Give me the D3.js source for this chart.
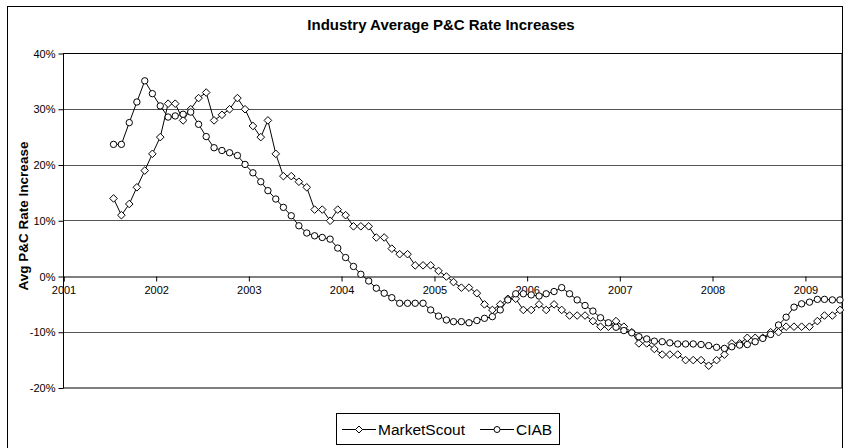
<!DOCTYPE html>
<html><head><meta charset="utf-8">
<script src="https://cdn.jsdelivr.net/npm/d3@7"></script>
<style>body{margin:0;background:#fff} svg{display:block;font-family:"Liberation Sans",Arial,sans-serif}</style>
</head><body><svg id="c" width="844" height="448"></svg>
<script>
// Monthly values, July 2001 .. May 2009
const startYear = 2001, startMonth = 6;
const marketScout = [
  14, 11, 13, 16, 19, 22,
  25, 31, 31, 28, 30, 32, 33, 28, 29, 30, 32, 30,
  27, 25, 28, 22, 18, 18, 17, 16, 12, 12, 10, 12,
  11, 9, 9, 9, 7, 7, 5, 4, 4, 2, 2, 2,
  1, 0, -1, -2, -2, -3, -5, -6, -5, -4, -4, -6,
  -6, -5, -6, -5, -6, -7, -7, -7, -8, -9, -9, -8,
  -9, -10, -12, -12, -13, -14, -14, -14, -15, -15, -15, -16,
  -15, -14, -12, -12, -11, -11, -11, -10, -10, -9, -9, -9,
  -9, -8, -7, -7, -6
];
const ciab = [
  23.7, 23.7, 27.6, 31.3, 35.1, 32.8,
  30.6, 28.6, 28.8, 29.1, 29.5, 27.3, 25.1, 23.1, 22.6, 22.2, 21.7, 20.1,
  18.6, 17.0, 15.4, 13.9, 12.4, 10.9, 9.1, 7.8, 7.3, 7.0, 6.7, 5.1,
  3.4, 1.8, 0.4, -0.8, -2.1, -3.0, -3.8, -4.8, -4.8, -4.8, -4.8, -6.0,
  -7.1, -7.8, -8.1, -8.1, -8.3, -7.9, -7.5, -7.2, -6.0, -4.2, -3.1, -3.1,
  -3.3, -3.5, -3.1, -2.7, -2.0, -3.1, -4.2, -5.2, -6.2, -7.4, -8.3, -9.1,
  -9.7, -10.1, -10.8, -11.2, -11.6, -11.7, -11.9, -12.1, -12.1, -12.1, -12.2, -12.4,
  -12.7, -12.9, -12.6, -12.3, -12.2, -11.7, -11.1, -10.4, -8.7, -7.3, -5.5, -4.9,
  -4.6, -4.1, -4.1, -4.2, -4.2
];
const seriesNames = ["MarketScout", "CIAB"];
const yTicks = [-20, -10, 0, 10, 20, 30, 40];
const xTickYears = [2001, 2002, 2003, 2004, 2005, 2006, 2007, 2008, 2009];
const titleText = "Industry Average P&C Rate Increases";
const yTitleText = "Avg P&C Rate Increase";

const svg = d3.select("#c");
const L = 63.5, R = 842, T = 53.5, B = 388;

const x = d3.scaleTime().domain([new Date(2001, 0, 1), new Date(2009, 4, 25)]).range([L, R]);
const y = d3.scaleLinear().domain([-20, 40]).range([B, T]);
const crisp = v => Math.round(v - 0.5) + 0.5;

// outer chart border
svg.append("rect").attr("x", 7.5).attr("y", 6.5).attr("width", 835).attr("height", 445)
  .attr("fill", "none").attr("stroke", "#000").attr("stroke-width", 1);

// title
svg.append("text").attr("x", 441).attr("y", 30).attr("text-anchor", "middle")
  .attr("font-weight", "bold").attr("font-size", 15).text(titleText);

// gridlines
svg.append("g").selectAll("line").data(yTicks.filter(t => t !== 0 && t !== 40 && t !== -20)).join("line")
  .attr("x1", L).attr("x2", R).attr("y1", d => crisp(y(d))).attr("y2", d => crisp(y(d)))
  .attr("stroke", "#555").attr("stroke-width", 1);

// plot area border
svg.append("rect").attr("x", L).attr("y", T).attr("width", R - L).attr("height", B - T)
  .attr("fill", "none").attr("stroke", "#000").attr("stroke-width", 1);

// y axis
const yAxis = d3.axisLeft(y).tickValues(yTicks).tickFormat(d => d + "%").tickSize(5).tickPadding(3);
const gy = svg.append("g").attr("transform", `translate(${L},0)`).call(yAxis);
gy.select(".domain").remove();
gy.selectAll(".tick line").attr("stroke", "#000");
gy.selectAll("text").attr("font-size", 11).attr("font-family", "Liberation Sans, Arial, sans-serif").attr("fill", "#000");

// x axis at zero
const xAxis = d3.axisBottom(x).tickValues(xTickYears.map(yr => new Date(yr, 0, 1)))
  .tickFormat(d3.timeFormat("%Y")).tickSize(5).tickPadding(5);
const gx = svg.append("g").attr("transform", `translate(0,${crisp(y(0))})`).call(xAxis);
gx.select(".domain").attr("stroke", "#000");
gx.selectAll(".tick line").attr("stroke", "#000");
gx.selectAll("text").attr("font-size", 11).attr("font-family", "Liberation Sans, Arial, sans-serif").attr("fill", "#000");

// y title
svg.append("text").attr("transform", "translate(28,216) rotate(-90)").attr("text-anchor", "middle")
  .attr("font-weight", "bold").attr("font-size", 13.5).text(yTitleText);

const dateOf = i => new Date(startYear, startMonth + i, 17);
const line = d3.line().x((d, i) => x(dateOf(i))).y(d => y(d));
const diamond = r => `M0,${-r}L${r},0L0,${r}L${-r},0Z`;

function drawSeries(vals, kind) {
  const g = svg.append("g");
  g.append("path").attr("d", line(vals)).attr("fill", "none").attr("stroke", "#000").attr("stroke-width", 1);
  if (kind === "diamond") {
    g.selectAll("path.m").data(vals).join("path").attr("class", "m")
      .attr("transform", (d, i) => `translate(${x(dateOf(i))},${y(d)})`)
      .attr("d", diamond(3.8)).attr("fill", "#fff").attr("stroke", "#000").attr("stroke-width", 1);
  } else {
    g.selectAll("circle").data(vals).join("circle")
      .attr("cx", (d, i) => x(dateOf(i))).attr("cy", d => y(d)).attr("r", 3.2)
      .attr("fill", "#fff").attr("stroke", "#000").attr("stroke-width", 1);
  }
}
drawSeries(marketScout, "diamond");
drawSeries(ciab, "circle");

// legend
const lg = svg.append("g");
lg.append("rect").attr("x", 336.5).attr("y", 413.5).attr("width", 223).attr("height", 31)
  .attr("fill", "#fff").attr("stroke", "#000");
const items = [{name: seriesNames[0], kind: "diamond", x0: 342}, {name: seriesNames[1], kind: "circle", x0: 480}];
items.forEach(it => {
  lg.append("line").attr("x1", it.x0).attr("x2", it.x0 + 34).attr("y1", 429.5).attr("y2", 429.5).attr("stroke", "#000");
  if (it.kind === "diamond") {
    lg.append("path").attr("transform", `translate(${it.x0 + 17},429.5)`).attr("d", diamond(3.5))
      .attr("fill", "#fff").attr("stroke", "#000");
  } else {
    lg.append("circle").attr("cx", it.x0 + 17).attr("cy", 429.5).attr("r", 3)
      .attr("fill", "#fff").attr("stroke", "#000");
  }
  lg.append("text").attr("x", it.x0 + 36).attr("y", 435).attr("font-size", 15.5).text(it.name);
});
</script></body></html>
